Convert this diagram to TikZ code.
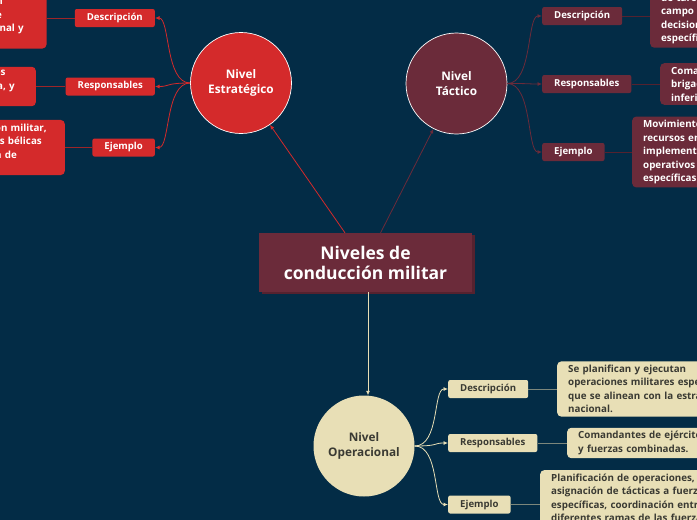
\documentclass[tikz,border=0pt]{standalone}
\usepackage{fontspec}
\setmainfont{Open Sans}
\usetikzlibrary{arrows.meta,positioning}
\definecolor{Fondo}{HTML}{032C46}
\definecolor{Estr}{HTML}{D42A2B}
\definecolor{EstrLine}{HTML}{9E2528}
\definecolor{Tact}{HTML}{6B2B3A}
\definecolor{TactDark}{HTML}{55222F}
\definecolor{Oper}{HTML}{E8DFB6}
\definecolor{OperLine}{HTML}{7C877C}
\definecolor{OperText}{HTML}{3A3A33}

\begin{document}
\begin{tikzpicture}[x=1pt,y=-1pt,>={Latex[length=4.5pt,width=4pt]},
  nivel/.style={circle,minimum size=101pt,inner sep=0pt,align=center,font=\fontsize{11.8}{15}\selectfont\bfseries},
  rama/.style={rounded corners=2pt,minimum height=18pt,inner xsep=12pt,inner ysep=0pt,font=\fontsize{9.6}{10}\selectfont\bfseries},
  texto/.style={rounded corners=4pt,text width=200pt,inner xsep=11pt,inner ysep=3.5pt,font=\fontsize{9.8}{13.5}\selectfont\bfseries},
  enlace/.style={line width=0.8pt}]
  \useasboundingbox (0,0) rectangle (697,520);
  \clip (0,0) rectangle (697,520);
  \fill[Fondo] (0,0) rectangle (697,520);

  % title
  \node[fill=TactDark,minimum width=213pt,minimum height=59pt] (sombra) at (368.5,264.5) {};
  \node[fill=Tact,text=white,minimum width=213pt,minimum height=59pt,align=center,
    font=\fontsize{17.5}{20}\selectfont\bfseries] (titulo) at (365.5,262.5) {Niveles de\\conducción militar};

  % levels
  \node[nivel,fill=Estr,draw=white,line width=0.7pt,text=white] (estr) at (241,83) {Nivel\\Estratégico};
  \node[nivel,fill=Tact,draw=white,line width=0.7pt,text=white] (tact) at (456.5,83.5) {Nivel\\Táctico};
  \node[nivel,fill=Oper,text=OperText] (oper) at (364,446) {Nivel\\Operacional};

  \draw[->,enlace,Estr] (titulo) -- (estr);
  \draw[->,enlace,Tact] (titulo) -- (tact);
  \draw[->,enlace,Oper] (titulo.south -| 368,0) -- (oper.north -| 368,0);

  % strategic
  \node[rama,fill=Estr,text=white,anchor=east] (eDesc) at (155,18) {Descripción};
  \node[rama,fill=Estr,text=white,anchor=east] (eResp) at (155,86.5) {Responsables};
  \node[rama,fill=Estr,text=white,anchor=east] (eEjem) at (155,147.5) {Ejemplo};
  \node[texto,fill=Estr,text=white,align=right,anchor=east] (eDescT) at (46.7,18)
    {\mbox{}\\ión\kern32.7pt\\de\kern33.7pt\\ional y\kern11.7pt\\\mbox{}};
  \node[texto,fill=Estr,text=white,align=right,anchor=east] (eRespT) at (36,86.5)
    {es\kern19.3pt\\ca, y\kern10pt\\\mbox{}};
  \node[texto,fill=Estr,text=white,align=right,anchor=east] (eEjemT) at (65,147.5)
    {ión militar,\kern7pt\\ias bélicas\kern12pt\\ión de\kern37pt\\\mbox{}};
  \foreach \r in {eDesc,eResp,eEjem}
    \draw[->,enlace,Estr] (estr.west) .. controls +(-25,0) and +(15,0) .. (\r.east);
  \draw[enlace,EstrLine] (eDesc) -- (eDescT);
  \draw[enlace,EstrLine] (eResp) -- (eRespT);
  \draw[enlace,EstrLine] (eEjem) -- (eEjemT);

  % tactical
  \node[rama,fill=Tact,text=white,anchor=west] (tDesc) at (542,16) {Descripción};
  \node[rama,fill=Tact,text=white,anchor=west] (tResp) at (542,84) {Responsables};
  \node[rama,fill=Tact,text=white,anchor=west] (tEjem) at (542,152) {Ejemplo};
  \node[texto,fill=Tact,text=white,align=left,anchor=west] (tDescT) at (650,16)
    {\mbox{}\\de tareas\\campo de\\decisiones\\específicas};
  \node[texto,fill=Tact,text=white,align=left,anchor=west] (tRespT) at (660,84)
    {Comandantes\\brigadas\\inferiores};
  \node[texto,fill=Tact,text=white,align=left,anchor=west] (tEjemT) at (632,152)
    {Movimientos\\recursos en\\implementación\\operativos\\específicas};
  \foreach \r in {tDesc,tResp,tEjem}
    \draw[->,enlace,Tact] (tact.east) .. controls +(25,0) and +(-15,0) .. (\r.west);
  \draw[enlace,TactDark] (tDesc) -- (tDescT);
  \draw[enlace,TactDark] (tResp) -- (tRespT);
  \draw[enlace,TactDark] (tEjem) -- (tEjemT);

  % operational
  \node[rama,fill=Oper,text=OperText,anchor=west] (oDesc) at (448,389) {Descripción};
  \node[rama,fill=Oper,text=OperText,anchor=west] (oResp) at (448,443) {Responsables};
  \node[rama,fill=Oper,text=OperText,anchor=west] (oEjem) at (448,504.5) {Ejemplo};
  \node[texto,fill=Oper,text=OperText,align=left,anchor=west] (oDescT) at (557,389)
    {Se planifican y ejecutan\\operaciones militares específicas\\que se alinean con la estrategia\\nacional.};
  \node[texto,fill=Oper,text=OperText,align=left,anchor=west] (oRespT) at (567,443)
    {Comandantes de ejércitos\\y fuerzas combinadas.};
  \node[texto,fill=Oper,text=OperText,align=left,anchor=west] (oEjemT) at (540,504.5)
    {Planificación de operaciones,\\asignación de tácticas a fuerzas\\específicas, coordinación entre\\diferentes ramas de las fuerzas\\armadas.};
  \foreach \r in {oDesc,oResp,oEjem}
    \draw[->,enlace,Oper] (oper.east) .. controls +(25,0) and +(-15,0) .. (\r.west);
  \draw[enlace,OperLine] (oDesc) -- (oDescT);
  \draw[enlace,OperLine] (oResp) -- (oRespT);
  \draw[enlace,OperLine] (oEjem) -- (oEjemT);
\end{tikzpicture}
\end{document}
